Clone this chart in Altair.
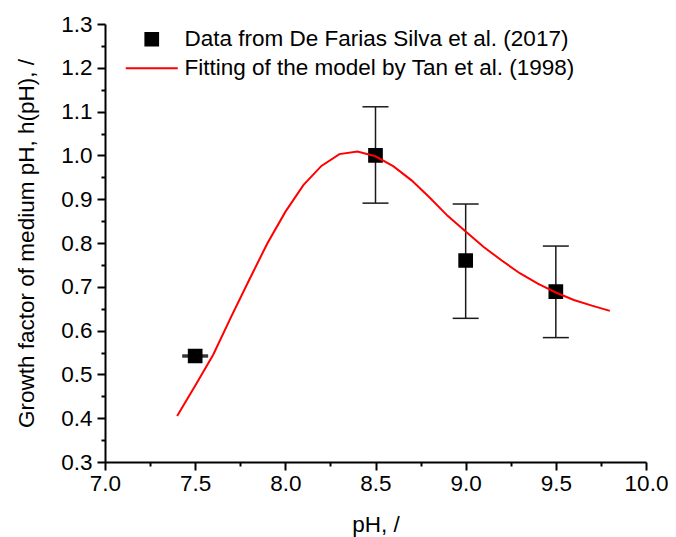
import altair as alt
import pandas as pd

# ---- data ----
series_labels = [
    "Data from De Farias Silva et al. (2017)",
    "Fitting of the model by Tan et al. (1998)",
]

ph_data = [7.5, 8.5, 9.0, 9.5]
h_data = [0.542, 1.000, 0.760, 0.689]
h_err_low = [0.540, 0.891, 0.628, 0.584]
h_err_high = [0.544, 1.111, 0.889, 0.793]

ph_fit = [7.4, 7.5, 7.6, 7.7, 7.8, 7.9, 8.0, 8.1, 8.2, 8.3, 8.4, 8.5, 8.6,
          8.7, 8.8, 8.9, 9.0, 9.1, 9.2, 9.3, 9.4, 9.5, 9.6, 9.7, 9.8]
h_fit = [0.405, 0.474, 0.545, 0.632, 0.716, 0.799, 0.871, 0.932, 0.976, 1.003,
         1.009, 0.998, 0.975, 0.943, 0.904, 0.862, 0.826, 0.791, 0.760, 0.731,
         0.707, 0.687, 0.670, 0.657, 0.645]

x_ticks = [7.0, 7.25, 7.5, 7.75, 8.0, 8.25, 8.5, 8.75, 9.0, 9.25, 9.5, 9.75, 10.0]
y_ticks = [0.3, 0.35, 0.4, 0.45, 0.5, 0.55, 0.6, 0.65, 0.7, 0.75, 0.8, 0.85,
           0.9, 0.95, 1.0, 1.05, 1.1, 1.15, 1.2, 1.25, 1.3]

pts = pd.DataFrame({
    "pH": ph_data, "h": h_data, "lo": h_err_low, "hi": h_err_high,
    "series": [series_labels[0]] * len(ph_data),
})
fit = pd.DataFrame({"pH": ph_fit, "h": h_fit})

FONT = "Liberation Sans"
FS = 22.5
X_TITLE = "pH, /"
Y_TITLE = "Growth factor of medium pH, h(pH), /"

xscale = alt.Scale(domain=[7.0, 10.0], nice=False, zero=False)
yscale = alt.Scale(domain=[0.3, 1.3], nice=False, zero=False)

major_x = "abs(datum.value * 2 - round(datum.value * 2)) < 0.001"
major_y = "abs(datum.value * 10 - round(datum.value * 10)) < 0.001"

xaxis = alt.Axis(
    title=X_TITLE, values=x_ticks,
    labelExpr=f"{major_x} ? format(datum.value, '.1f') : ''",
    tickSize={"condition": {"test": major_x, "value": 8}, "value": 4},
    labelOverlap=False, labelFlush=False, grid=False,
    labelPadding=2, titlePadding=19,
)
yaxis = alt.Axis(
    title=Y_TITLE, values=y_ticks,
    labelExpr=f"{major_y} ? format(datum.value, '.1f') : ''",
    tickSize={"condition": {"test": major_y, "value": 8}, "value": 4},
    labelOverlap=False, labelFlush=False, grid=False,
    labelPadding=5, titlePadding=22,
)

X = alt.X("pH:Q", scale=xscale, axis=xaxis)

legend = alt.Legend(
    title=None, orient="none", legendX=35.5, legendY=4,
    labelFont=FONT, labelFontSize=FS, labelColor="black", labelLimit=800,
    labelOffset=21.5, rowPadding=6, symbolStrokeWidth=2, symbolSize=161,
    padding=0,
)

bars = alt.Chart(pts).mark_rule(color="#1a1a1a", strokeWidth=1.5).encode(
    x=X,
    y=alt.Y("lo:Q", scale=yscale, axis=yaxis),
    y2="hi:Q",
)
cap_lo = alt.Chart(pts).mark_tick(
    orient="horizontal", size=26, thickness=1.5, color="#1a1a1a", opacity=1
).encode(x=X, y=alt.Y("lo:Q", scale=yscale, axis=yaxis))
cap_hi = alt.Chart(pts).mark_tick(
    orient="horizontal", size=26, thickness=1.5, color="#1a1a1a", opacity=1
).encode(x=X, y=alt.Y("hi:Q", scale=yscale, axis=yaxis))

points = alt.Chart(pts).mark_point(
    filled=True, size=161, strokeWidth=2, opacity=1
).encode(
    x=X,
    y=alt.Y("h:Q", scale=yscale, axis=yaxis),
    fill=alt.Fill("series:N", scale=alt.Scale(domain=series_labels, range=["black", "red"]), legend=legend),
    stroke=alt.Stroke("series:N", scale=alt.Scale(domain=series_labels, range=["black", "red"]), legend=legend),
    shape=alt.Shape("series:N", scale=alt.Scale(domain=series_labels, range=["square", "M-4.1,0H4.1"]), legend=legend),
)

curve = alt.Chart(fit).mark_line(color="#ff0000", strokeWidth=2).encode(
    x=X,
    y=alt.Y("h:Q", scale=yscale, axis=yaxis),
)

chart = alt.layer(bars, cap_lo, cap_hi, points, curve).properties(
    width=541, height=438,
    autosize=alt.AutoSizeParams(type="none"),
    padding={"left": 97, "top": 16, "right": 22, "bottom": 75},
    background="white",
).configure_view(stroke=None).configure_axis(
    domainColor="black", domainWidth=2, tickColor="black", tickWidth=2,
    labelFont=FONT, labelFontSize=FS, labelColor="black",
    titleFont=FONT, titleFontSize=FS, titleFontWeight="normal", titleColor="black",
)

chart.save("out.html", embed_options={"renderer": "svg", "actions": False})
